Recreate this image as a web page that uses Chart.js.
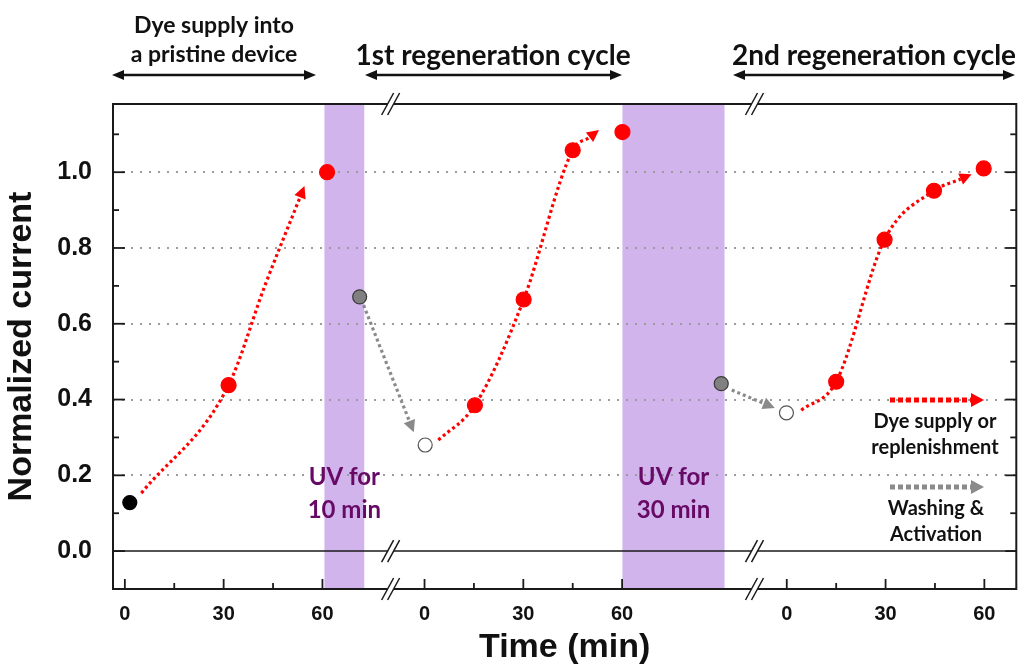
<!DOCTYPE html>
<html lang="en">
<head>
  <meta charset="UTF-8" />
  <title>Normalized current vs time</title>
  <script src="https://cdn.jsdelivr.net/npm/chart.js"></script>
  <style>
    html, body { margin: 0; padding: 0; background: white; }
  </style>
</head>
<body>
  <canvas id="chart" width="1025" height="665"></canvas>

  <script>
    // broken time axis: one running minute scale, every cycle restarts at its origin
    const cycleOrigins = [0, 91, 201];
    const cycleMajor = [0, 30, 60];
    const cycleMinor = [15, 45];
    const breakAt = [80.7, 191.2];
    const uvStart = [60.6, 151.1];
    const uvEnd = [72.7, 182.1];
    const yTicks = [0, 0.2, 0.4, 0.6, 0.8, 1.0];
    const yMinor = [0.1, 0.3, 0.5, 0.7, 0.9, 1.1];

    // measured points (x = running minutes, y = normalized current)
    const startPts = [{ x: 1.5, y: 0.128 }];
    const dyePts = [
      { x: 31.5, y: 0.438 }, { x: 61.4, y: 1.0 },
      { x: 106.3, y: 0.385 }, { x: 121.1, y: 0.664 }, { x: 136.0, y: 1.058 }, { x: 151.1, y: 1.106 },
      { x: 216.0, y: 0.447 }, { x: 230.7, y: 0.822 }, { x: 245.7, y: 0.951 }, { x: 260.8, y: 1.010 }
    ];
    const uvPts = [{ x: 71.3, y: 0.671 }, { x: 181.1, y: 0.442 }];
    const washedPts = [{ x: 91.2, y: 0.280 }, { x: 200.9, y: 0.365 }];

    // guide arrows
    const dyeCurve1 = [{ x: 5.0, y: 0.153 }, { x: 31.5, y: 0.438 }, { x: 42.5, y: 0.70 }, { x: 53.2, y: 0.934 }];
    const dyeCurve2 = [{ x: 95.2, y: 0.293 }, { x: 106.3, y: 0.385 }, { x: 121.1, y: 0.664 }, { x: 136.0, y: 1.058 }, { x: 141.1, y: 1.092 }];
    const dyeCurve3 = [{ x: 205.4, y: 0.372 }, { x: 216.0, y: 0.447 }, { x: 230.7, y: 0.822 }, { x: 245.7, y: 0.951 }, { x: 253.8, y: 0.982 }];
    const washCurve1 = [{ x: 72.5, y: 0.649 }, { x: 86.4, y: 0.343 }];
    const washCurve2 = [{ x: 184.3, y: 0.425 }, { x: 194.0, y: 0.390 }];

    const RED = '#ff0000';
    const GRAY = '#8a8a8a';
    const PURPLE = '#660a66';
    const AXFONT = "'Liberation Sans', Arial, sans-serif";
    const TXFONT = "Lato, 'Open Sans', sans-serif";

    function curve(data, color) {
      return {
        data, borderColor: color, borderWidth: 3.2, borderDash: [3, 3],
        pointRadius: 0, tension: 0.4, cubicInterpolationMode: 'monotone',
        order: 2, arrowColor: color
      };
    }

    function markers(data, fill, border, r) {
      return {
        data, showLine: false, pointRadius: r, pointHoverRadius: r,
        pointBackgroundColor: fill, pointBorderColor: border, pointBorderWidth: 1.2, order: 0
      };
    }

    function line(ctx, x0, y0, x1, y1) {
      ctx.beginPath(); ctx.moveTo(x0, y0); ctx.lineTo(x1, y1); ctx.stroke();
    }

    function head(ctx, tx, ty, ux, uy, len, hw) {
      // triangle with its base centred on (tx,ty) pointing along (ux,uy)
      ctx.beginPath();
      ctx.moveTo(tx + ux * len, ty + uy * len);
      ctx.lineTo(tx - uy * hw, ty + ux * hw);
      ctx.lineTo(tx + uy * hw, ty - ux * hw);
      ctx.closePath();
      ctx.fill();
    }

    function drawBreak(ctx, cx, cy) {
      const h = 11, s = 6, g = 3;
      ctx.fillStyle = 'white';
      ctx.beginPath();
      ctx.moveTo(cx - g - s, cy + h); ctx.lineTo(cx - g + s, cy - h);
      ctx.lineTo(cx + g + s, cy - h); ctx.lineTo(cx + g - s, cy + h);
      ctx.closePath(); ctx.fill();
      ctx.strokeStyle = '#1a1a1a'; ctx.lineWidth = 1.5;
      line(ctx, cx - g - s, cy + h, cx - g + s, cy - h);
      line(ctx, cx + g - s, cy + h, cx + g + s, cy - h);
    }

    function dottedArrow(ctx, x0, x1, y, color, w) {
      ctx.strokeStyle = color; ctx.fillStyle = color;
      ctx.lineWidth = w; ctx.setLineDash([5, 3]);
      line(ctx, x0, y, x1, y);
      ctx.setLineDash([]);
      head(ctx, x1, y, 1, 0, 13, 7);
    }

    function doubleArrow(ctx, x0, x1, y) {
      ctx.strokeStyle = '#111'; ctx.fillStyle = '#111'; ctx.lineWidth = 2.5;
      line(ctx, x0 + 10, y, x1 - 10, y);
      head(ctx, x0 + 12, y, -1, 0, 12, 5);
      head(ctx, x1 - 12, y, 1, 0, 12, 5);
    }

    function texts(ctx, lines, cx, baselines, font, color) {
      ctx.font = font; ctx.fillStyle = color;
      ctx.textAlign = 'center'; ctx.textBaseline = 'alphabetic';
      lines.forEach((t, i) => ctx.fillText(t, cx, baselines[i]));
    }

    const framePlugin = {
      id: 'frame',
      beforeDatasetsDraw(chart) {
        const { ctx, chartArea: a, scales: { x, y } } = chart;
        ctx.save();
        // UV exposure bands
        ctx.fillStyle = '#d1b4ec';
        uvStart.forEach((s, i) => {
          const x0 = x.getPixelForValue(s), x1 = x.getPixelForValue(uvEnd[i]);
          ctx.fillRect(x0, a.top, x1 - x0, a.bottom - a.top);
        });
        // dotted grid
        ctx.strokeStyle = '#9c9c9c'; ctx.lineWidth = 2; ctx.setLineDash([2, 7]);
        yTicks.filter(v => v > 0).forEach(v => {
          const py = Math.round(y.getPixelForValue(v));
          line(ctx, a.left, py, a.right, py);
        });
        ctx.setLineDash([]);
        // box + zero line
        ctx.strokeStyle = '#1a1a1a'; ctx.lineWidth = 2;
        ctx.strokeRect(a.left, a.top, a.right - a.left, a.bottom - a.top);
        const y0 = y.getPixelForValue(0);
        ctx.lineWidth = 1.5;
        line(ctx, a.left, y0, a.right, y0);
        // inward ticks
        ctx.lineWidth = 1.8;
        yTicks.forEach(v => {
          const py = y.getPixelForValue(v);
          line(ctx, a.left, py, a.left + 12, py);
          line(ctx, a.right, py, a.right - 11, py);
        });
        yMinor.forEach(v => {
          const py = y.getPixelForValue(v);
          line(ctx, a.left, py, a.left + 6, py);
          line(ctx, a.right, py, a.right - 6, py);
        });
        cycleOrigins.forEach(o => {
          cycleMajor.forEach(t => { const px = x.getPixelForValue(o + t); line(ctx, px, a.bottom, px, a.bottom - 10); });
          cycleMinor.forEach(t => { const px = x.getPixelForValue(o + t); line(ctx, px, a.bottom, px, a.bottom - 6); });
        });
        // axis breaks
        breakAt.forEach(b => {
          const bx = x.getPixelForValue(b);
          [a.top, y0, a.bottom].forEach(by => drawBreak(ctx, bx, by));
        });
        ctx.restore();
      },
      afterDatasetsDraw(chart) {
        const { ctx, scales: { x } } = chart;
        ctx.save();
        // arrow heads at the end of the guide curves
        chart.data.datasets.forEach((ds, i) => {
          if (!ds.arrowColor) return;
          const pts = chart.getDatasetMeta(i).data;
          const p = pts[pts.length - 1], q = pts[pts.length - 2];
          let dx = p.x - q.x, dy = p.y - q.y;
          if (p.cp1x !== undefined && Math.abs(p.x - p.cp1x) + Math.abs(p.y - p.cp1y) > 0.5) {
            dx = p.x - p.cp1x; dy = p.y - p.cp1y;
          }
          const d = Math.hypot(dx, dy);
          ctx.fillStyle = ds.arrowColor;
          head(ctx, p.x, p.y, dx / d, dy / d, 12, 6);
        });

        // UV labels inside the bands
        uvStart.forEach((s, i) => {
          const cx = (x.getPixelForValue(s) + x.getPixelForValue(uvEnd[i])) / 2;
          texts(ctx, ['UV for', i === 0 ? '10 min' : '30 min'], cx, [485, 518], `bold 24px ${TXFONT}`, PURPLE);
        });

        // key in the lower right
        dottedArrow(ctx, 890, 971, 400, RED, 5);
        texts(ctx, ['Dye supply or', 'replenishment'], 935, [428, 454], `bold 20px ${TXFONT}`, '#111');
        dottedArrow(ctx, 890, 971, 487, GRAY, 5);
        texts(ctx, ['Washing &', 'Activation'], 936, [515, 541], `bold 20px ${TXFONT}`, '#111');

        // headers above the plot
        doubleArrow(ctx, 112, 316, 75);
        texts(ctx, ['Dye supply into', 'a pristine device'], 214, [33, 62], `bold 23px ${TXFONT}`, '#111');
        doubleArrow(ctx, 365, 622, 75);
        texts(ctx, ['1st regeneration cycle'], 493, [65], `bold 28px ${TXFONT}`, '#111');
        doubleArrow(ctx, 733, 1015, 75);
        texts(ctx, ['2nd regeneration cycle'], 874, [65], `bold 28px ${TXFONT}`, '#111');
        ctx.restore();
      }
    };

    new Chart(document.getElementById('chart'), {
      type: 'line',
      data: {
        datasets: [
          markers(startPts, '#000000', '#000000', 7),
          markers(dyePts, RED, RED, 7.5),
          markers(uvPts, '#808080', '#3a3a3a', 7),
          markers(washedPts, '#ffffff', '#555555', 7),
          curve(dyeCurve1, RED),
          curve(dyeCurve2, RED),
          curve(dyeCurve3, RED),
          { ...curve(washCurve1, GRAY), tension: 0, cubicInterpolationMode: 'default' },
          { ...curve(washCurve2, GRAY), tension: 0, cubicInterpolationMode: 'default' }
        ]
      },
      options: {
        responsive: false,
        devicePixelRatio: 1,
        animation: false,
        layout: { padding: { top: 104, right: 4, left: 0, bottom: 0 } },
        plugins: { legend: { display: false }, tooltip: { enabled: false } },
        scales: {
          x: {
            type: 'linear', min: -3.6, max: 270.7,
            grid: { display: false }, border: { display: false },
            afterBuildTicks: s => { s.ticks = cycleOrigins.flatMap(o => cycleMajor.map(t => ({ value: o + t }))); },
            afterFit: s => { s.height = 76; },
            ticks: {
              autoSkip: false, maxRotation: 0, padding: 5, color: '#111',
              font: { family: AXFONT, size: 20, weight: 'bold' },
              callback: v => {
                const o = cycleOrigins.filter(c => c <= v + 0.5).pop();
                return String(Math.round(v - o));
              }
            },
            title: {
              display: true, text: 'Time (min)', color: '#111',
              font: { family: AXFONT, size: 34, weight: 'bold', lineHeight: 1 },
              padding: { top: 0, bottom: 0 }
            }
          },
          y: {
            min: -0.1, max: 1.18,
            grid: { display: false }, border: { display: false },
            afterBuildTicks: s => { s.ticks = yTicks.map(v => ({ value: v })); },
            afterFit: s => { s.width = 113; },
            ticks: {
              padding: 13, color: '#111',
              font: { family: AXFONT, size: 25, weight: 'bold' },
              callback: v => v.toFixed(1)
            },
            title: {
              display: true, text: 'Normalized current', color: '#111',
              font: { family: AXFONT, size: 34, weight: 'bold', lineHeight: 1 },
              padding: { top: 5, bottom: 0 }
            }
          }
        }
      },
      plugins: [framePlugin]
    });
  </script>
</body>
</html>
